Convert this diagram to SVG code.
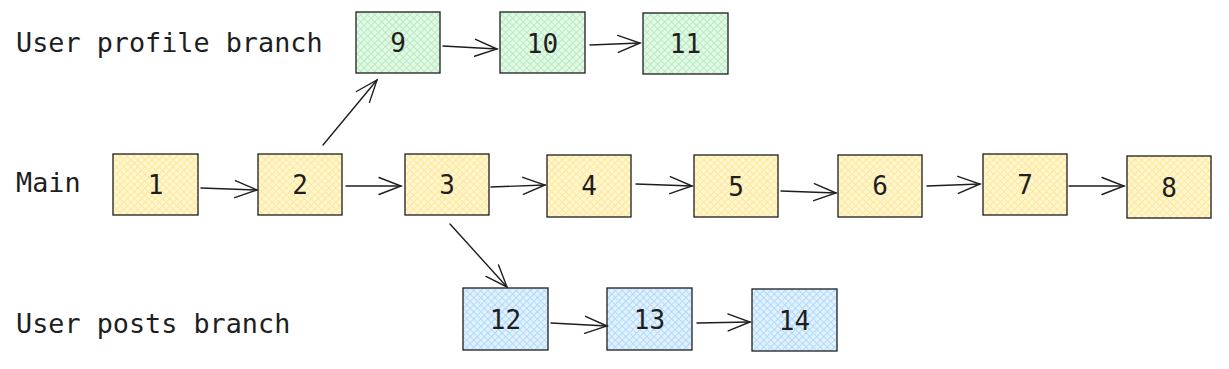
<svg xmlns="http://www.w3.org/2000/svg" width="1229" height="369" viewBox="0 0 1229 369">
<defs>
<pattern id="hy" width="5" height="5" patternUnits="userSpaceOnUse" patternTransform="rotate(45)">
<rect width="5" height="5" fill="#fff6d2"/>
<path d="M0 0H5M0 0V5" stroke="#ffe58a" stroke-width="1.6"/>
</pattern>
<pattern id="hg" width="5" height="5" patternUnits="userSpaceOnUse" patternTransform="rotate(45)">
<rect width="5" height="5" fill="#e4f8e7"/>
<path d="M0 0H5M0 0V5" stroke="#abeab5" stroke-width="1.6"/>
</pattern>
<pattern id="hb" width="5" height="5" patternUnits="userSpaceOnUse" patternTransform="rotate(45)">
<rect width="5" height="5" fill="#e2f1fe"/>
<path d="M0 0H5M0 0V5" stroke="#a5d5fb" stroke-width="1.6"/>
</pattern>
<marker id="ah" markerWidth="26" markerHeight="24" viewBox="-24 -12 26 24" refX="0" refY="0" orient="auto" markerUnits="userSpaceOnUse">
<path d="M-22 -8.5L0 0L-22 8.5" fill="none" stroke="#1e1e1e" stroke-width="1.4" stroke-linecap="round"/>
</marker>
</defs>
<style>
.n rect{stroke:#1e1e1e;stroke-width:1.3}
.y rect{fill:url(#hy)}
.g rect{fill:url(#hg)}
.b rect{fill:url(#hb)}
text{font-family:"DejaVu Sans Mono","Liberation Mono",monospace;font-size:26.8px;fill:#1e1e1e}
.n text{text-anchor:middle;dominant-baseline:central;font-size:26px}
#edges line{stroke:#1e1e1e;stroke-width:1.4;marker-end:url(#ah);stroke-linecap:round}
</style>
<g id="labels">
<text x="16" y="52">User profile branch</text>
<text x="16" y="192">Main</text>
<text x="16" y="333">User posts branch</text>
</g>
<g id="n1" class="n y"><rect x="113" y="154" width="85" height="61"/><text x="155.5" y="185">1</text></g>
<g id="n2" class="n y"><rect x="258" y="154" width="84" height="61"/><text x="300" y="185">2</text></g>
<g id="n3" class="n y"><rect x="405" y="154" width="84" height="61"/><text x="447" y="185">3</text></g>
<g id="n4" class="n y"><rect x="547" y="155" width="84" height="62"/><text x="589" y="186">4</text></g>
<g id="n5" class="n y"><rect x="694" y="155" width="84" height="62"/><text x="736" y="187">5</text></g>
<g id="n6" class="n y"><rect x="838" y="155" width="84" height="62"/><text x="880" y="186">6</text></g>
<g id="n7" class="n y"><rect x="983" y="154" width="84" height="61"/><text x="1025" y="185">7</text></g>
<g id="n8" class="n y"><rect x="1127" y="156" width="84" height="62"/><text x="1169" y="188">8</text></g>
<g id="n9" class="n g"><rect x="356" y="12" width="84" height="61"/><text x="398" y="43">9</text></g>
<g id="n10" class="n g"><rect x="500" y="12" width="85" height="61"/><text x="542.5" y="44">10</text></g>
<g id="n11" class="n g"><rect x="643" y="13" width="85" height="61"/><text x="685.5" y="44">11</text></g>
<g id="n12" class="n b"><rect x="463" y="288" width="85" height="62"/><text x="505.5" y="320">12</text></g>
<g id="n13" class="n b"><rect x="607" y="288" width="85" height="62"/><text x="649.5" y="320">13</text></g>
<g id="n14" class="n b"><rect x="752" y="289" width="85" height="62"/><text x="794.5" y="321">14</text></g>
<g id="edges">
<line x1="201" y1="188" x2="257" y2="190"/>
<line x1="346" y1="186" x2="401" y2="186"/>
<line x1="491" y1="187" x2="545" y2="185"/>
<line x1="636" y1="184" x2="692" y2="186"/>
<line x1="781" y1="191" x2="836" y2="193"/>
<line x1="927" y1="186" x2="980" y2="184"/>
<line x1="1069" y1="186" x2="1124" y2="186"/>
<line x1="323" y1="145" x2="377" y2="80"/>
<line x1="450" y1="224" x2="507" y2="287"/>
<line x1="443" y1="46" x2="497" y2="49"/>
<line x1="590" y1="45" x2="640" y2="43"/>
<line x1="551" y1="323" x2="607" y2="326"/>
<line x1="697" y1="323" x2="750" y2="322"/>
</g>
</svg>
